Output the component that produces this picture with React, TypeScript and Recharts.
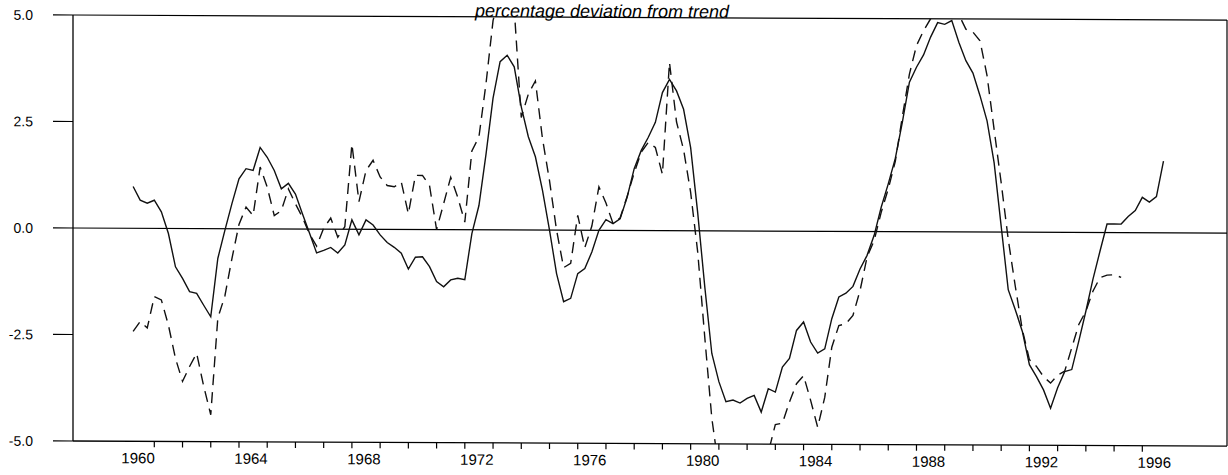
import React from 'react';
import { LineChart, Line, XAxis, YAxis, ReferenceLine } from 'recharts';

// Quarterly observations starting 1960 Q1
const START_YEAR = 1960;

// solid line: percentage deviation from trend
const solidSeries: number[] = [
  0.98, 0.66, 0.59, 0.66, 0.39, -0.12, -0.9, -1.17, -1.48, -1.52,
  -1.8, -2.07, -0.7, -0.04, 0.59, 1.17, 1.41, 1.37, 1.91, 1.68,
  1.37, 0.94, 1.07, 0.82, 0.35, -0.1, -0.56, -0.5, -0.43, -0.56,
  -0.37, 0.22, -0.13, 0.22, 0.1, -0.13, -0.31, -0.42, -0.56, -0.93,
  -0.65, -0.64, -0.87, -1.22, -1.34, -1.18, -1.14, -1.17, -0.09, 0.57,
  1.77, 3.09, 3.95, 4.1, 3.83, 2.89, 2.19, 1.72, 0.94, 0.0,
  -1.02, -1.68, -1.6, -1.02, -0.9, -0.51, 0.0, 0.25, 0.16, 0.27,
  0.78, 1.45, 1.88, 2.19, 2.54, 3.24, 3.55, 3.28, 2.85, 1.95,
  0.42, -1.31, -2.88, -3.54, -4.01, -3.97, -4.04, -3.93, -3.86, -4.25,
  -3.7, -3.78, -3.19, -2.99, -2.33, -2.13, -2.6, -2.86, -2.76, -2.05,
  -1.54, -1.45, -1.29, -0.88, -0.56, -0.09, 0.57, 1.12, 1.72, 2.57,
  3.51, 3.86, 4.15, 4.57, 4.91, 4.87, 4.96, 4.45, 4.02, 3.73,
  3.2, 2.61, 1.63, 0.14, -1.35, -1.82, -2.33, -3.11, -3.39, -3.7,
  -4.13, -3.65, -3.27, -3.22, -2.55, -1.85, -1.1, -0.44, 0.2, 0.2,
  0.2, 0.38, 0.52, 0.83, 0.72, 0.85, 1.68,
];

// dashed line: comparison series (runs off the frame where it exceeds +/-5)
const dashedSeries: number[] = [
  -2.42, -2.19, -2.34, -1.6, -1.68, -2.27, -3.05, -3.59, -3.24, -2.93,
  -3.7, -4.37, -2.1, -1.58, -0.7, 0.1, 0.51, 0.31, 1.45, 0.98,
  0.31, 0.43, 0.94, 0.59, 0.27, -0.12, -0.4, 0.02, 0.26, -0.19,
  0.06, 2.0, 0.65, 1.38, 1.62, 1.23, 1.03, 1.0, 1.11, 0.37,
  1.27, 1.27, 1.03, 0.0, 0.61, 1.23, 0.76, 0.18, 1.85, 2.18,
  3.43, 4.91, 5.6, 5.8, 5.2, 2.64, 3.19, 3.5, 2.15, 1.16,
  0.0, -0.88, -0.78, 0.35, -0.41, 0.1, 1.02, 0.64, 0.16, 0.29,
  0.8, 1.35, 1.84, 2.07, 1.95, 1.32, 3.95, 2.55, 1.9, 0.9,
  -0.5, -2.5, -4.4, -5.6, -5.9, -6.0, -5.9, -5.8, -5.6, -5.4,
  -5.2, -4.54, -4.51, -4.01, -3.58, -3.39, -3.97, -4.6, -3.9, -2.72,
  -2.21, -2.17, -1.97, -1.39, -0.6, -0.21, 0.45, 1.0, 1.65, 2.7,
  3.7, 4.37, 4.72, 5.0, 5.2, 5.3, 5.3, 5.1, 4.76, 4.69,
  4.49, 3.67, 2.41, 1.16, -0.17, -1.27, -2.29, -2.99, -3.15, -3.39,
  -3.54, -3.35, -3.26, -2.71, -2.16, -1.85, -1.38, -1.06, -1.0, -0.99,
  -1.05,
];

const yTicks = [-5, -2.5, 0, 2.5, 5];
const tickYears = [
  1960, 1961, 1962, 1963, 1964, 1965, 1966, 1967, 1968, 1969,
  1970, 1971, 1972, 1973, 1974, 1975, 1976, 1977, 1978, 1979,
  1980, 1981, 1982, 1983, 1984, 1985, 1986, 1987, 1988, 1989,
  1990, 1991, 1992, 1993, 1994, 1995, 1996,
];
const labelYears = [1960, 1964, 1968, 1972, 1976, 1980, 1984, 1988, 1992, 1996];
const title = 'percentage deviation from trend';

const data = solidSeries.map((v, i) => ({
  t: START_YEAR + 0.25 + i * 0.25,
  solid: v,
  dashed: i < dashedSeries.length ? dashedSeries[i] : null,
}));

const FONT = '"Liberation Sans", Arial, Helvetica, sans-serif';

const XTick = (props: any) => {
  const { x, y, payload } = props;
  const yr = payload.value;
  return (
    <g>
      {yr >= 1961 && (
        <line x1={x} x2={x} y1={y - 6} y2={y} stroke="#000" strokeWidth={1.2} />
      )}
      {labelYears.includes(yr) && (
        <text x={x + 12} y={y + 16} textAnchor="middle" fontSize={15} fontFamily={FONT} fill="#000">
          {yr}
        </text>
      )}
    </g>
  );
};

export default function App() {
  return (
    <div style={{ position: 'relative', width: 1228, height: 475, background: '#fff', overflow: 'hidden' }}>
      <style>{'body{margin:0;background:#fff}'}</style>
      <div
        style={{
          position: 'absolute',
          left: 0,
          top: 0,
          width: 1228,
          height: 475,
          transform: 'skewY(0.252deg)',
          transformOrigin: '73px 0px',
        }}
      >
        <LineChart
          width={1228}
          height={475}
          data={data}
          margin={{ top: 15, right: 1, left: 0, bottom: 0 }}
        >
          <XAxis
            dataKey="t"
            type="number"
            domain={[1958.12, 1999]}
            allowDataOverflow
            ticks={tickYears}
            interval={0}
            tick={<XTick />}
            tickLine={false}
            tickSize={6}
            tickMargin={0}
            height={34}
            axisLine={{ stroke: '#000', strokeWidth: 1.3 }}
          />
          <YAxis
            type="number"
            domain={[-5, 5]}
            allowDataOverflow
            ticks={yTicks}
            interval={0}
            width={73}
            tickSize={20}
            tickMargin={20}
            tickFormatter={(v: number) => v.toFixed(1)}
            tick={{ fontSize: 14, fill: '#000', fontFamily: FONT }}
            tickLine={{ stroke: '#000', strokeWidth: 1.2 }}
            axisLine={{ stroke: '#000', strokeWidth: 1.3 }}
          />
          <ReferenceLine y={0} stroke="#000" strokeWidth={1.2} />
          <ReferenceLine y={5} stroke="#000" strokeWidth={1.2} />
          <ReferenceLine x={1999} stroke="#000" strokeWidth={1.2} />
          <Line
            type="linear"
            dataKey="dashed"
            stroke="#111"
            strokeWidth={1.4}
            strokeDasharray="11 7"
            dot={false}
            isAnimationActive={false}
            connectNulls={false}
          />
          <Line
            type="linear"
            dataKey="solid"
            stroke="#111"
            strokeWidth={1.4}
            dot={false}
            isAnimationActive={false}
          />
        </LineChart>
        <svg
          width={1228}
          height={475}
          style={{ position: 'absolute', left: 0, top: 0, pointerEvents: 'none' }}
        >
          <text x={602} y={15} textAnchor="middle" fontStyle="italic" fontSize={18} fontFamily={FONT} fill="#000">
            {title}
          </text>
        </svg>
      </div>
    </div>
  );
}
